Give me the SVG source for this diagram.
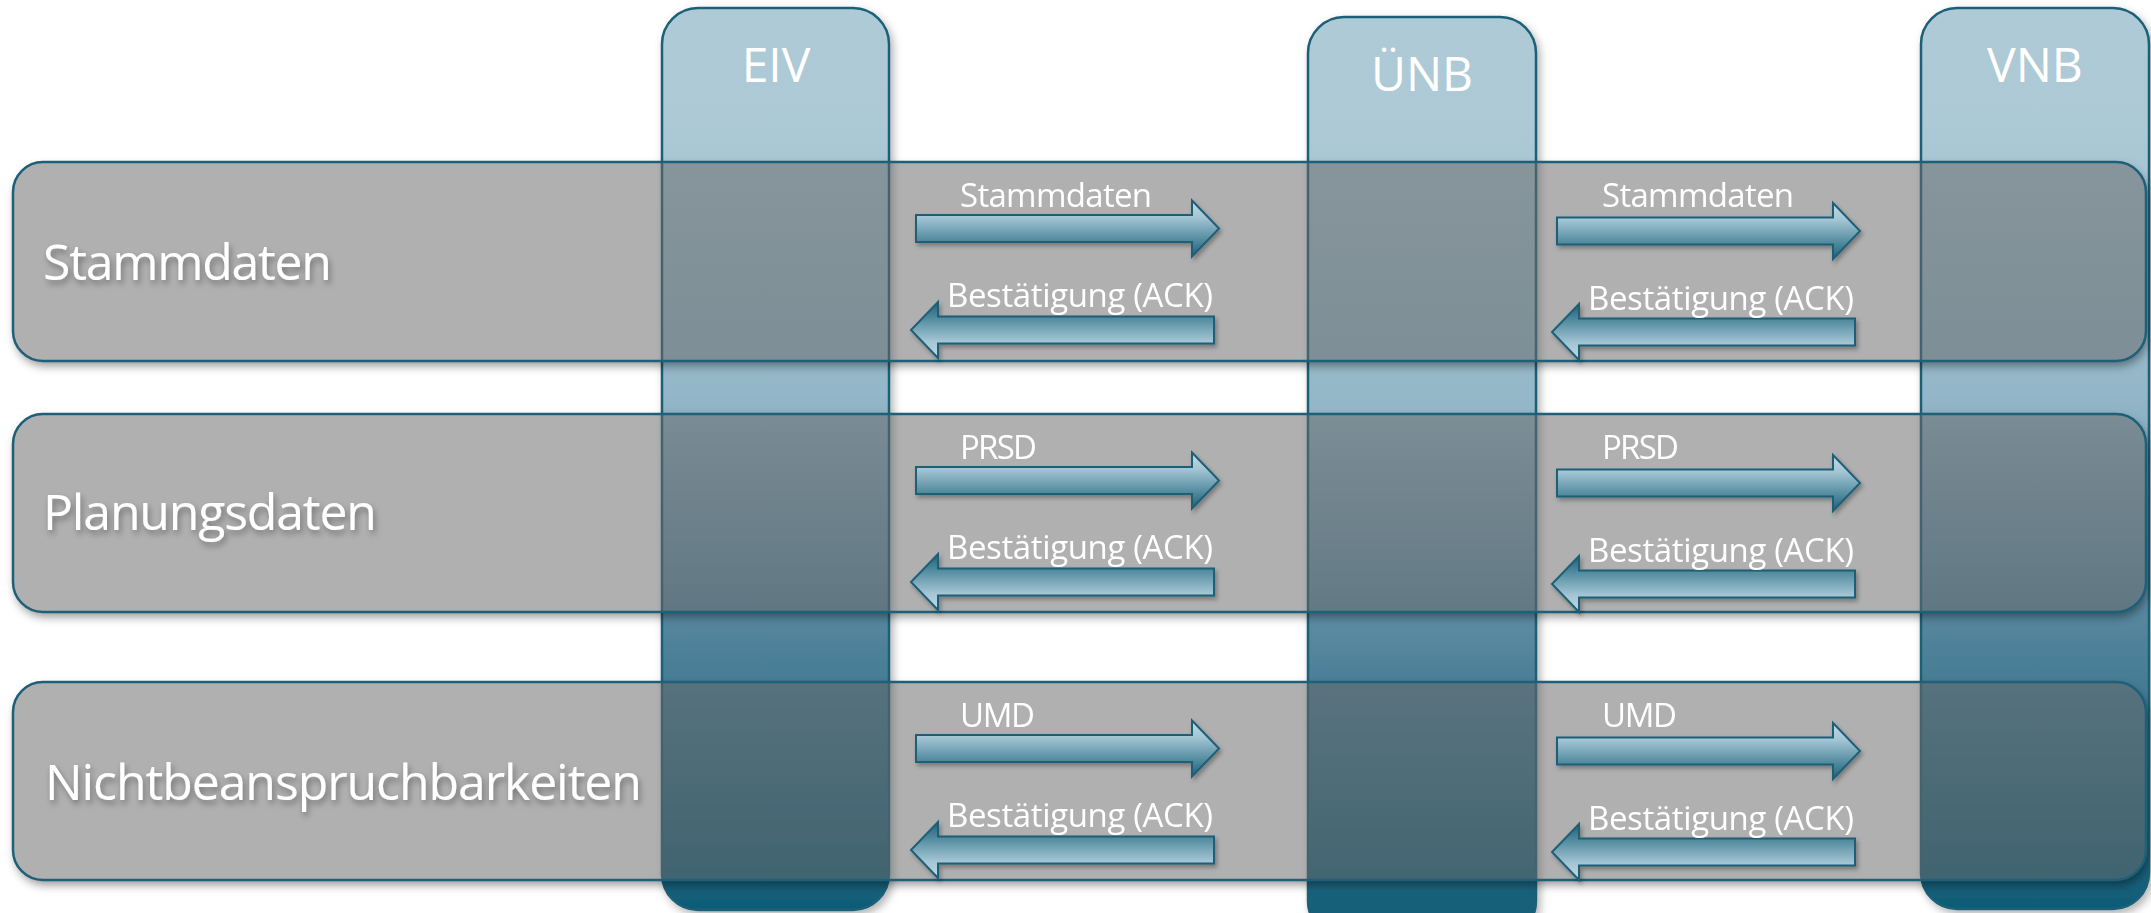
<svg xmlns="http://www.w3.org/2000/svg" width="2151" height="913" viewBox="0 0 2151 913">
  <defs>
    <style>
      .lane { stroke: #1d6078; stroke-width: 2.5; }
      .phase { fill: #676767; fill-opacity: 0.52; stroke: #1d6078; stroke-width: 2.5; }
      .head { font-family: "Open Sans", "Lato", sans-serif; font-size: 48px; fill: #ffffff; text-anchor: middle; }
      .phase-label { font-family: "Open Sans", "Lato", sans-serif; font-size: 50px; fill: #ffffff; }
      .msg { font-family: "Open Sans", "Lato", sans-serif; font-size: 33px; fill: #ffffff; }
      .arrow { fill: url(#arrowFill); stroke: #1c5f77; stroke-width: 2; }
    </style>
    <linearGradient id="laneFill" x1="0" y1="0" x2="0" y2="1">
      <stop offset="0" stop-color="#afcad7"/>
      <stop offset="0.12" stop-color="#adc9d6"/>
      <stop offset="0.43" stop-color="#93b7c8"/>
      <stop offset="0.71" stop-color="#4e8199"/>
      <stop offset="1" stop-color="#0f5c77"/>
    </linearGradient>
    <linearGradient id="arrowFill" x1="0" y1="0" x2="0" y2="1">
      <stop offset="0" stop-color="#c0dae6"/>
      <stop offset="0.3" stop-color="#a3c5d4"/>
      <stop offset="0.75" stop-color="#4a8599"/>
      <stop offset="1" stop-color="#1d6079"/>
    </linearGradient>
    <filter id="laneShadow" x="-10%" y="-5%" width="120%" height="110%">
      <feDropShadow dx="3" dy="4" stdDeviation="4" flood-color="#000" flood-opacity="0.3"/>
    </filter>
    <filter id="softBlur" x="-5%" y="-20%" width="110%" height="140%">
      <feGaussianBlur stdDeviation="5"/>
    </filter>
    <filter id="textShadow" x="-10%" y="-30%" width="120%" height="160%">
      <feDropShadow dx="2" dy="4" stdDeviation="3" flood-color="#000" flood-opacity="0.35"/>
    </filter>
    <filter id="arrowShadow" x="-5%" y="-30%" width="110%" height="160%">
      <feDropShadow dx="2" dy="3" stdDeviation="2" flood-color="#000" flood-opacity="0.3"/>
    </filter>
    <mask id="outsidePhases" maskUnits="userSpaceOnUse" x="0" y="0" width="2151" height="913">
      <rect x="0" y="0" width="2151" height="913" fill="#fff"/>
      <rect x="13" y="162" width="2133" height="199" rx="30" fill="#000"/>
      <rect x="13" y="414" width="2133" height="198" rx="30" fill="#000"/>
      <rect x="13" y="682" width="2133" height="198" rx="30" fill="#000"/>
    </mask>
    <!-- block arrow pointing right, origin at tail centre -->
    <path id="blockArrow" d="M0,-13.5 H276 V-28 L303,0 L276,28 V13.5 H0 Z"/>
  </defs>

  <rect x="0" y="0" width="2151" height="913" fill="#ffffff"/>

  <!-- swimlanes -->
  <g id="col-eiv">
    <rect class="lane" x="662" y="8" width="227" height="902" rx="36" fill="url(#laneFill)" filter="url(#laneShadow)"/>
    <text class="head" x="776" y="82">EIV</text>
  </g>
  <g id="col-unb">
    <rect class="lane" x="1308" y="17" width="228" height="920" rx="36" fill="url(#laneFill)" filter="url(#laneShadow)"/>
    <text class="head" x="1422" y="91">ÜNB</text>
  </g>
  <g id="col-vnb">
    <rect class="lane" x="1921" y="8" width="228" height="901" rx="36" fill="url(#laneFill)" filter="url(#laneShadow)"/>
    <text class="head" x="2035" y="82">VNB</text>
  </g>

  <!-- soft shadows under the phase bands -->
  <g mask="url(#outsidePhases)">
    <g filter="url(#softBlur)" fill="#000" fill-opacity="0.4">
      <rect x="15" y="167" width="2133" height="199" rx="30"/>
      <rect x="15" y="419" width="2133" height="198" rx="30"/>
      <rect x="15" y="687" width="2133" height="198" rx="30"/>
    </g>
  </g>

  <!-- phase bands -->
  <g id="row-stammdaten">
    <rect class="phase" x="13" y="162" width="2133" height="199" rx="30"/>
    <text class="phase-label" x="43" y="280" textLength="289" filter="url(#textShadow)">Stammdaten</text>
  </g>
  <g id="row-planungsdaten">
    <rect class="phase" x="13" y="414" width="2133" height="198" rx="30"/>
    <text class="phase-label" x="43" y="530" textLength="334" filter="url(#textShadow)">Planungsdaten</text>
  </g>
  <g id="row-nichtbeanspruchbarkeiten">
    <rect class="phase" x="13" y="682" width="2133" height="198" rx="30"/>
    <text class="phase-label" x="45" y="800" textLength="597" filter="url(#textShadow)">Nichtbeanspruchbarkeiten</text>
  </g>

  <!-- message flows -->
  <g id="connectors">
    <g filter="url(#arrowShadow)">
      <!-- EIV -> ÜNB -->
      <use href="#blockArrow" class="arrow" transform="translate(916,228.5)"/>
      <use href="#blockArrow" class="arrow" transform="translate(916,480.5)"/>
      <use href="#blockArrow" class="arrow" transform="translate(916,748.5)"/>
      <!-- ÜNB -> EIV -->
      <use href="#blockArrow" class="arrow" transform="translate(1214,330) rotate(180)"/>
      <use href="#blockArrow" class="arrow" transform="translate(1214,582) rotate(180)"/>
      <use href="#blockArrow" class="arrow" transform="translate(1214,850) rotate(180)"/>
      <!-- ÜNB -> VNB -->
      <use href="#blockArrow" class="arrow" transform="translate(1557,231)"/>
      <use href="#blockArrow" class="arrow" transform="translate(1557,483)"/>
      <use href="#blockArrow" class="arrow" transform="translate(1557,751)"/>
      <!-- VNB -> ÜNB -->
      <use href="#blockArrow" class="arrow" transform="translate(1855,332) rotate(180)"/>
      <use href="#blockArrow" class="arrow" transform="translate(1855,584) rotate(180)"/>
      <use href="#blockArrow" class="arrow" transform="translate(1855,852) rotate(180)"/>
    </g>

    <text class="msg" x="960" y="207" textLength="192">Stammdaten</text>
    <text class="msg" x="947" y="307" textLength="266">Bestätigung (ACK)</text>
    <text class="msg" x="960" y="459" textLength="77">PRSD</text>
    <text class="msg" x="947" y="559" textLength="266">Bestätigung (ACK)</text>
    <text class="msg" x="960" y="727" textLength="75">UMD</text>
    <text class="msg" x="947" y="827" textLength="266">Bestätigung (ACK)</text>

    <text class="msg" x="1602" y="207" textLength="192">Stammdaten</text>
    <text class="msg" x="1588" y="310" textLength="266">Bestätigung (ACK)</text>
    <text class="msg" x="1602" y="459" textLength="77">PRSD</text>
    <text class="msg" x="1588" y="562" textLength="266">Bestätigung (ACK)</text>
    <text class="msg" x="1602" y="727" textLength="75">UMD</text>
    <text class="msg" x="1588" y="830" textLength="266">Bestätigung (ACK)</text>
  </g>
</svg>
